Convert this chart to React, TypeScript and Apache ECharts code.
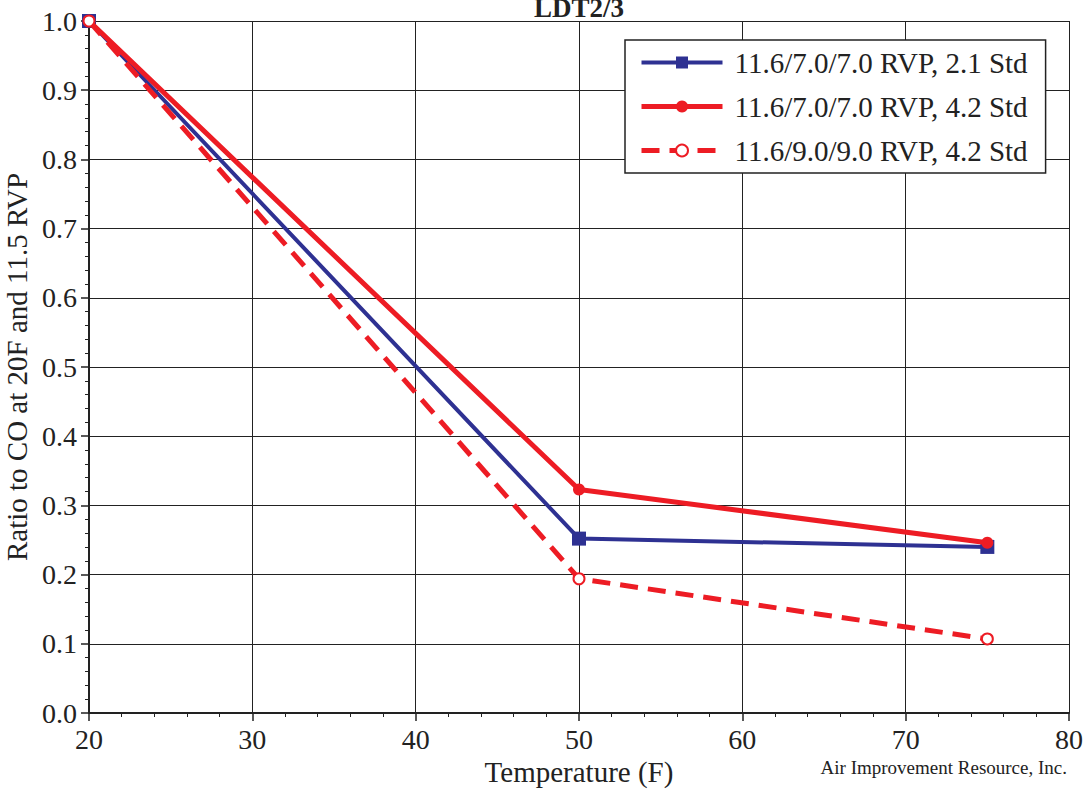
import React, { useEffect, useRef } from "react";
import * as echarts from "echarts";

const temperatures = [20, 50, 75];
const seriesNames = [
  "11.6/7.0/7.0 RVP, 2.1 Std",
  "11.6/7.0/7.0 RVP, 4.2 Std",
  "11.6/9.0/9.0 RVP, 4.2 Std",
];
const blueValues = [1.0, 0.252, 0.240];
const redValues = [1.0, 0.323, 0.246];
const dashedValues = [1.0, 0.194, 0.107];

const FONT = "Liberation Serif";
const BLUE = "#2E3192";
const RED = "#ED1C24";
const DASH = [18, 10];

function pairs(xs: number[], ys: number[]) {
  return xs.map((x, i) => [x, ys[i]]);
}

export default function App() {
  const ref = useRef<HTMLDivElement>(null);
  useEffect(() => {
    document.body.style.margin = "0";
    const chart = echarts.init(ref.current!, null, { renderer: "svg" });
    chart.setOption({
      animation: false,
      backgroundColor: "#fff",
      textStyle: { fontFamily: FONT, color: "#222" },
      grid: { left: 89, right: 19, top: 21, bottom: 76, outerBoundsMode: "none", containLabel: false },
      graphic: [
        {
          type: "text",
          x: 579,
          y: 8,
          style: {
            text: "LDT2/3",
            fontFamily: FONT,
            fontSize: 27,
            fontWeight: "bold",
            fill: "#222",
            textAlign: "center",
            textVerticalAlign: "middle",
          },
        },
        {
          type: "text",
          x: 1067,
          y: 767,
          style: {
            text: "Air Improvement Resource, Inc.",
            fontFamily: FONT,
            fontSize: 19,
            fill: "#222",
            textAlign: "right",
            textVerticalAlign: "middle",
          },
        },
      ],
      legend: {
        orient: "vertical",
        left: 625,
        top: 40,
        padding: [8, 18, 8, 14],
        itemGap: 15,
        itemWidth: 81,
        itemHeight: 15,
        backgroundColor: "#fff",
        borderColor: "#222",
        borderWidth: 1.5,
        textStyle: { fontFamily: FONT, fontSize: 29, color: "#222", padding: [0, 0, 0, 7] },
        data: [
          { name: seriesNames[0], lineStyle: { width: 4, color: BLUE } },
          { name: seriesNames[1], lineStyle: { width: 5, color: RED } },
          { name: seriesNames[2], lineStyle: { width: 5, color: RED, type: DASH } },
        ],
      },
      xAxis: {
        type: "value",
        min: 20,
        max: 80,
        interval: 10,
        name: "Temperature (F)",
        nameLocation: "middle",
        nameGap: 44,
        nameTextStyle: { fontFamily: FONT, fontSize: 29, color: "#222" },
        axisLine: { show: true, lineStyle: { color: "#222", width: 2 } },
        axisTick: { show: true, length: 8, lineStyle: { color: "#222", width: 1.5 } },
        minorTick: { show: true, splitNumber: 5, length: 4, lineStyle: { color: "#222", width: 1 } },
        axisLabel: { fontFamily: FONT, fontSize: 28, color: "#222", margin: 12 },
        splitLine: { show: true, lineStyle: { color: "#222", width: 1 } },
      },
      yAxis: {
        type: "value",
        min: 0,
        max: 1.0,
        interval: 0.1,
        name: "Ratio to CO at 20F and 11.5 RVP",
        nameLocation: "middle",
        nameGap: 52,
        nameTextStyle: { fontFamily: FONT, fontSize: 29, color: "#222" },
        axisLine: { show: true, lineStyle: { color: "#222", width: 2 } },
        axisTick: { show: true, length: 8, lineStyle: { color: "#222", width: 1.5 } },
        minorTick: { show: true, splitNumber: 5, length: 4, lineStyle: { color: "#222", width: 1 } },
        axisLabel: {
          fontFamily: FONT,
          fontSize: 28,
          color: "#222",
          margin: 12,
          formatter: (v: number) => v.toFixed(1),
        },
        splitLine: { show: true, lineStyle: { color: "#222", width: 1 } },
      },
      series: [
        {
          name: seriesNames[0],
          type: "line",
          data: pairs(temperatures, blueValues),
          symbol: "rect",
          symbolSize: 14,
          itemStyle: { color: BLUE },
          lineStyle: { color: BLUE, width: 4 },
          z: 2,
        },
        {
          name: seriesNames[1],
          type: "line",
          data: pairs(temperatures, redValues),
          symbol: "circle",
          symbolSize: 12,
          itemStyle: { color: RED },
          lineStyle: { color: RED, width: 5 },
          z: 3,
        },
        {
          name: seriesNames[2],
          type: "line",
          data: pairs(temperatures, dashedValues),
          symbol: "circle",
          symbolSize: 11,
          itemStyle: { color: "#fff", borderColor: RED, borderWidth: 2 },
          lineStyle: { color: RED, width: 5, type: DASH },
          z: 4,
        },
      ],
    });
    return () => chart.dispose();
  }, []);
  return <div ref={ref} style={{ width: 1088, height: 789 }} />;
}
